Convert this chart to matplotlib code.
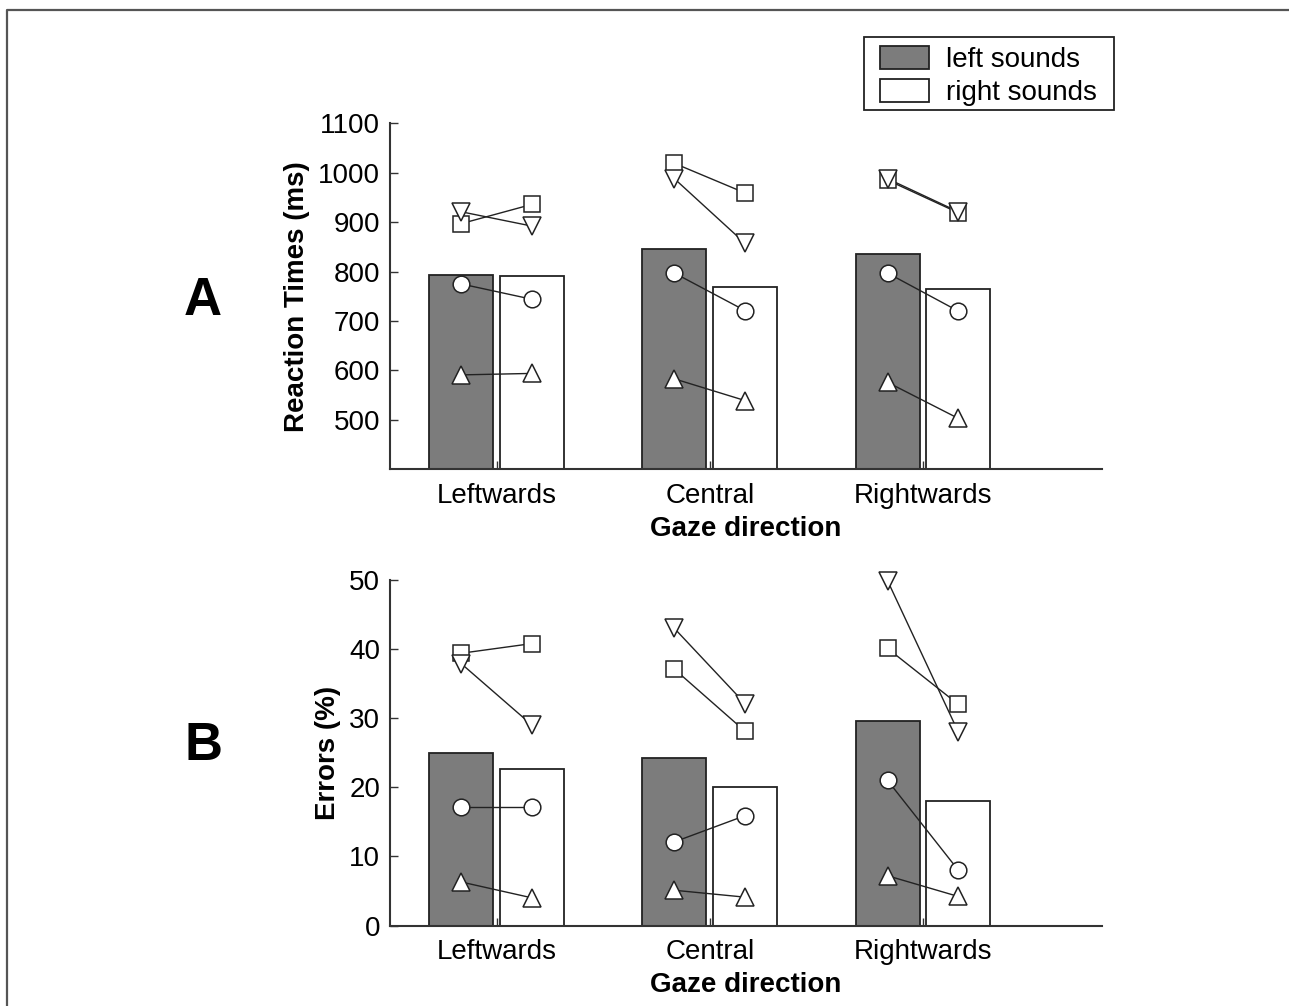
import numpy as np
import matplotlib
matplotlib.use('Agg')
import matplotlib.pyplot as plt
from matplotlib.patches import Patch, Rectangle
from matplotlib.lines import Line2D

# --- dati ---
categorie = ['Leftwards', 'Central', 'Rightwards']

# Pannello A: tempi di reazione (ms)
rt_bar_left = [794, 846, 836]
rt_bar_right = [792, 769, 765]
rt_circ_left = [775, 797, 797]
rt_circ_right = [744, 721, 720]
rt_tup_left = [591, 583, 576]
rt_tup_right = [594, 539, 503]
rt_sq_left = [897, 1019, 985]
rt_sq_right = [936, 959, 919]
rt_tdn_left = [921, 988, 988]
rt_tdn_right = [892, 857, 921]

# Pannello B: errori (%)
err_bar_left = [25.0, 24.2, 29.6]
err_bar_right = [22.7, 20.0, 18.0]
err_circ_left = [17.1, 12.1, 21.0]
err_circ_right = [17.1, 15.9, 8.0]
err_tup_left = [6.3, 5.1, 7.2]
err_tup_right = [4.0, 4.1, 4.2]
err_sq_left = [39.4, 37.1, 40.1]
err_sq_right = [40.8, 28.1, 32.0]
err_tdn_left = [37.9, 43.0, 49.9]
err_tdn_right = [29.0, 32.1, 28.0]

plt.rcParams['font.family'] = ['Liberation Sans', 'DejaVu Sans']
plt.rcParams['font.size'] = 20

W, H = 1289, 1006
fig = plt.figure(figsize=(W / 100, H / 100), dpi=100)

x = np.arange(1, 4)
off = 0.166
bw = 0.30
grigio = '#7c7c7c'

def pannello(ax, bl, br, serie, ylim, yticks, ylabel):
  ax.bar(x - off, bl, width=bw, color=grigio, edgecolor='#222222', linewidth=1.3, zorder=1)
  ax.bar(x + off, br, width=bw, color='white', edgecolor='#222222', linewidth=1.3, zorder=1)
  for (yl, yr, mk, ms) in serie:
    for i in range(3):
      ax.plot([x[i] - off, x[i] + off], [yl[i], yr[i]], color='#222222', lw=1.0, zorder=2)
    ax.plot(x - off, yl, ls='none', marker=mk, ms=ms, mfc='white', mec='#222222', mew=1.1,
            zorder=3, clip_on=False)
    ax.plot(x + off, yr, ls='none', marker=mk, ms=ms, mfc='white', mec='#222222', mew=1.1,
            zorder=3, clip_on=False)
  ax.set_xlim(0.5, 3.84)
  ax.set_ylim(*ylim)
  ax.set_yticks(yticks)
  ax.set_xticks(x)
  ax.set_xticklabels(categorie)
  for s in ['top', 'right']:
    ax.spines[s].set_visible(False)
  for s in ['left', 'bottom']:
    ax.spines[s].set_linewidth(1.5)
    ax.spines[s].set_color('#333333')
  ax.tick_params(axis='both', direction='in', length=6, width=1, colors='#333333', labelcolor='black')
  ax.tick_params(axis='y', pad=7)
  ax.tick_params(axis='x', pad=10)
  ax.set_ylabel(ylabel, fontweight='bold', labelpad=6)
  ax.set_xlabel('Gaze direction', fontweight='bold', labelpad=5)

# posizioni in pixel della figura originale
ax_left = 390 / W
ax_w = (1102 - 390) / W
axA = fig.add_axes([ax_left, 1 - 469.3 / H, ax_w, (469.3 - 123.3) / H])
axB = fig.add_axes([ax_left, 1 - 925.5 / H, ax_w, (925.5 - 580) / H])

pannello(axA, rt_bar_left, rt_bar_right,
         [(rt_circ_left, rt_circ_right, 'o', 12),
          (rt_tup_left, rt_tup_right, '^', 13),
          (rt_sq_left, rt_sq_right, 's', 11),
          (rt_tdn_left, rt_tdn_right, 'v', 13)],
         (400, 1100), np.arange(500, 1101, 100), 'Reaction Times (ms)')

pannello(axB, err_bar_left, err_bar_right,
         [(err_circ_left, err_circ_right, 'o', 12),
          (err_tup_left, err_tup_right, '^', 13),
          (err_sq_left, err_sq_right, 's', 11),
          (err_tdn_left, err_tdn_right, 'v', 13)],
         (0, 50), np.arange(0, 51, 10), 'Errors (%)')

# legenda (contenuto senza cornice, cornice disegnata a parte)
handles = [Patch(facecolor=grigio, edgecolor='#222222', linewidth=1.3, label='left sounds'),
           Patch(facecolor='white', edgecolor='#222222', linewidth=1.3, label='right sounds')]
leg = axA.legend(handles=handles, loc='upper left', bbox_to_anchor=(880 / W, 1 - 46 / H),
                 bbox_transform=fig.transFigure, borderaxespad=0, frameon=False,
                 borderpad=0, handlelength=1.78, handleheight=0.9, handletextpad=0.6,
                 labelspacing=0.2, fontsize=20)
fig.add_artist(Rectangle((864 / W, 1 - 110 / H), 250 / W, 73 / H, transform=fig.transFigure,
                         fill=False, edgecolor='#222222', lw=1.3))

# lettere dei pannelli
fig.text(203 / W, 1 - 301 / H, 'A', fontsize=38, fontweight='bold', ha='center', va='center')
fig.text(203 / W, 1 - 746 / H, 'B', fontsize=38, fontweight='bold', ha='center', va='center')

# cornice (solo lato superiore e sinistro)
fig.add_artist(Line2D([7 / W, 7 / W, 1], [0, 1 - 10 / H, 1 - 10 / H], transform=fig.transFigure,
                      color='#555555', lw=1.6))

fig.savefig('out.png', dpi=100)
